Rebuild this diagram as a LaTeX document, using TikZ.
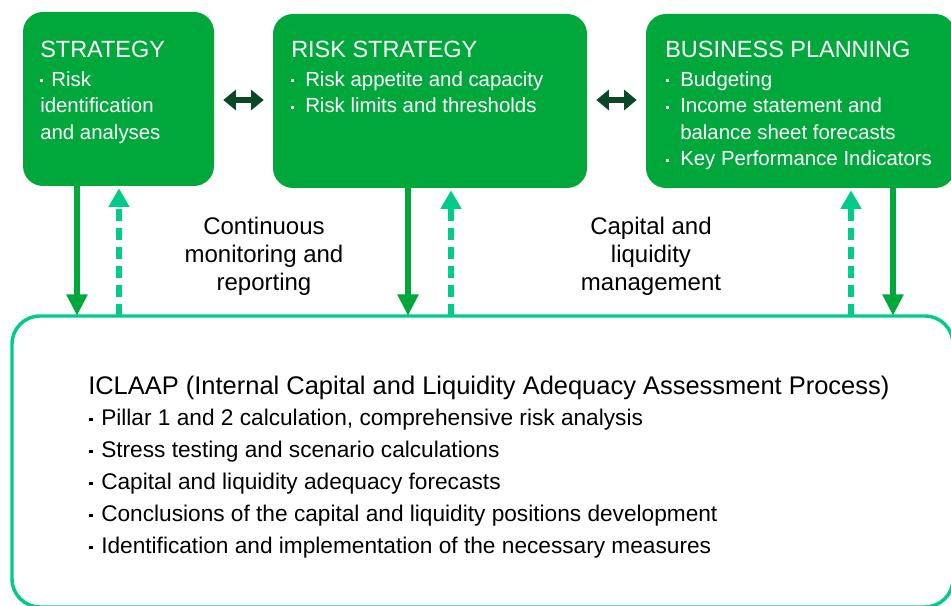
\documentclass[tikz,border=0pt]{standalone}
\usepackage{fontspec}
\setmainfont{Liberation Sans}
\usetikzlibrary{arrows.meta}
\definecolor{boxgreen}{RGB}{0,168,60}
\definecolor{pairgreen}{RGB}{10,72,40}
\definecolor{mintgreen}{RGB}{0,204,136}
% small square list dot
\newcommand\dotmark{\raisebox{0.19em}{\rule{0.15em}{0.15em}}}
\newcommand\bul{\makebox[10.5pt][l]{\dotmark}}
\newcommand\lbul{\makebox[9pt][l]{\dotmark}}
\tikzset{
  topbox/.style={fill=boxgreen, draw=none, rounded corners=15pt, inner sep=0pt},
  boxtitle/.style={anchor=north west, inner sep=0pt, text=white,
    font=\fontsize{17.6}{20}\selectfont},
  boxbody/.style={anchor=north west, inner sep=0pt, text=white, align=left,
    font=\fontsize{15.3}{19.9}\selectfont},
  sidelabel/.style={align=center, inner sep=0pt,
    font=\fontsize{18}{21}\selectfont},
  feed/.style={draw=boxgreen, line width=4.5pt,
    -{Triangle[width=15pt,length=16pt]}},
  report/.style={draw=mintgreen, line width=3.8pt, dash pattern=on 9pt off 5.25pt,
    -{Triangle[width=15pt,length=14pt]}},
  pair/.style={draw=pairgreen, line width=5pt,
    {Triangle[width=15pt,length=9.5pt]}-{Triangle[width=15pt,length=9.5pt]}}
}
\begin{document}
\begin{tikzpicture}[x=0.75pt, y=-0.75pt]
\useasboundingbox (0,0) rectangle (951,606);

% main boxes
\node[topbox, minimum width=143.25pt, minimum height=130.5pt] (strat) at (118.5,99) {};
\node[topbox, minimum width=235.5pt, minimum height=130.5pt] (risk) at (430,101) {};
\node[topbox, minimum width=231.75pt, minimum height=130.5pt] (plan) at (800.5,101) {};
\draw[draw=mintgreen, line width=2.6pt, rounded corners=21pt]
  (12,316) rectangle (953,607);
\node[inner sep=0pt, minimum width=705.75pt, minimum height=218.25pt] (iclaap) at (482.5,461.5) {};

% box texts
\node[boxtitle] (stratT) at (40,40.5) {STRATEGY};
\node[boxbody] (stratB) at (40,71) {\makebox[8.4pt][l]{\dotmark}Risk\\identification\\and analyses};
\node[boxtitle] (riskT) at (291,40.5) {RISK STRATEGY};
\node[boxbody] (riskB) at (291,71) {\bul Risk appetite and capacity\\\bul Risk limits and thresholds};
\node[boxtitle] (planT) at (665,40.5) {BUSINESS PLANNING};
\node[boxbody] (planB) at (666,71) {\bul Budgeting\\\bul Income statement and\\\hspace*{10.5pt}balance sheet forecasts\\\bul Key Performance Indicators};

% ICLAAP text
\node[anchor=north west, inner sep=0pt, font=\fontsize{19.1}{22}\selectfont] (iclT) at (88,376)
  {ICLAAP (Internal Capital and Liquidity Adequacy Assessment Process)};
\node[anchor=north west, inner sep=0pt, align=left, font=\fontsize{17}{24}\selectfont] (iclB) at (89,409)
  {\lbul Pillar 1 and 2 calculation, comprehensive risk analysis\\
   \lbul Stress testing and scenario calculations\\
   \lbul Capital and liquidity adequacy forecasts\\
   \lbul Conclusions of the capital and liquidity positions development\\
   \lbul Identification and implementation of the necessary measures};

% side labels
\node[sidelabel] (monit) at (264,256) {Continuous\\monitoring and\\reporting};
\node[sidelabel] (capman) at (651,256) {Capital and\\liquidity\\management};

% x positions of the vertical connectors
\coordinate (xa) at (77,0);
\coordinate (xb) at (119,0);
\coordinate (xc) at (408,0);
\coordinate (xd) at (451,0);
\coordinate (xe) at (851,0);
\coordinate (xf) at (893,0);
\coordinate (ymid) at (0,100);

\draw[feed] (strat.south -| xa) -- (iclaap.north -| xa);
\draw[report] (iclaap.north -| xb) -- ([yshift=-1.5pt]strat.south -| xb);
\draw[feed] (risk.south -| xc) -- (iclaap.north -| xc);
\draw[report] (iclaap.north -| xd) -- ([yshift=-1.5pt]risk.south -| xd);
\draw[report] (iclaap.north -| xe) -- ([yshift=-1.5pt]plan.south -| xe);
\draw[feed] (plan.south -| xf) -- (iclaap.north -| xf);

\draw[pair, shorten <=6.75pt, shorten >=6.75pt] (strat.east |- ymid) -- (risk.west |- ymid);
\draw[pair, shorten <=6.75pt, shorten >=6.75pt] (risk.east |- ymid) -- (plan.west |- ymid);
\end{tikzpicture}
\end{document}
